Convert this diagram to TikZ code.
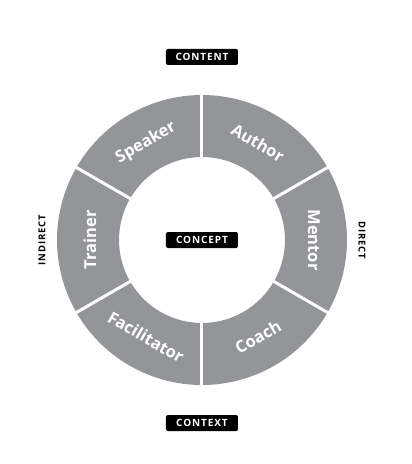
\documentclass[tikz,border=0pt]{standalone}
\usepackage{fontspec}
\setmainfont{Open Sans}
\newfontfamily\tagfont[LetterSpace=9]{Open Sans}
\usetikzlibrary{positioning}
\definecolor{ringgray}{RGB}{147,149,152}

\newlength{\du}
\setlength{\du}{1pt}

\tikzset{
  segment/.style={fill=ringgray},
  gapline/.style={draw=white, line width=3\du},
  role/.style={text=white, inner sep=0pt, font=\fontsize{16.5}{16.5}\selectfont\bfseries},
  tag/.style={fill=black, text=white, rounded corners=2\du, inner sep=0pt,
    minimum width=72\du, minimum height=16\du,
    font=\tagfont\fontsize{10}{10}\selectfont\bfseries},
  side/.style={inner sep=0pt, font=\tagfont\fontsize{9.5}{10}\selectfont\bfseries}
}

\begin{document}
\begin{tikzpicture}[x=1\du, y=1\du]
\useasboundingbox (-202,-224) rectangle (210,240);
% ring segments
\fill[segment] (90:145) arc (90:150:145) -- (150:83) arc (150:90:83) -- cycle;
\fill[segment] (30:145) arc (30:90:145) -- (90:83) arc (90:30:83) -- cycle;
\fill[segment] (-30:145) arc (-30:30:145) -- (30:83) arc (30:-30:83) -- cycle;
\fill[segment] (-90:145) arc (-90:-30:145) -- (-30:83) arc (-30:-90:83) -- cycle;
\fill[segment] (210:145) arc (210:270:145) -- (270:83) arc (270:210:83) -- cycle;
\fill[segment] (150:145) arc (150:210:145) -- (210:83) arc (210:150:83) -- cycle;
% gaps
\coordinate (in90) at (90:82);    \coordinate (out90) at (90:147);
\coordinate (in30) at (30:82);    \coordinate (out30) at (30:147);
\coordinate (in-30) at (-30:82);  \coordinate (out-30) at (-30:147);
\coordinate (in-90) at (-90:82);  \coordinate (out-90) at (-90:147);
\coordinate (in210) at (210:82);  \coordinate (out210) at (210:147);
\coordinate (in150) at (150:82);  \coordinate (out150) at (150:147);
\draw[gapline] (in90) -- (out90);
\draw[gapline] (in30) -- (out30);
\draw[gapline] (in-30) -- (out-30);
\draw[gapline] (in-90) -- (out-90);
\draw[gapline] (in210) -- (out210);
\draw[gapline] (in150) -- (out150);
% roles
\node[role, rotate=30] (speaker) at (120:112) {Speaker};
\node[role, rotate=-30] (author) at (60:112) {Author};
\node[role, rotate=-90] (mentor) at (0:112) {Mentor};
\node[role, rotate=30] (coach) at (-60:112) {Coach};
\node[role, rotate=-30] (facilitator) at (240:112) {Facilitator};
\node[role, rotate=90] (trainer) at (180:112) {Trainer};
% tags
\node[tag] (content) at (0,183) {CONTENT};
\node[tag] (concept) at (0,0) {CONCEPT};
\node[tag] (context) at (0,-183) {CONTEXT};
\node[side, rotate=90] (indirect) at (-160,0) {INDIRECT};
\node[side, rotate=-90] (direct) at (160,0) {DIRECT};
\end{tikzpicture}
\end{document}
